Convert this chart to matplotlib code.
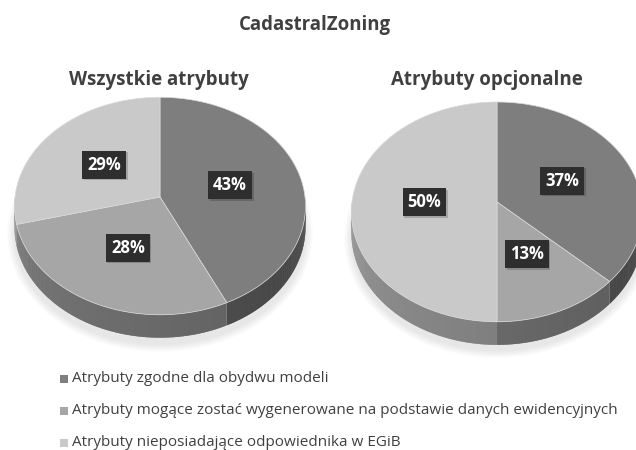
import numpy as np
import matplotlib
matplotlib.use("Agg")
import matplotlib.pyplot as plt
from matplotlib.patches import Polygon, Ellipse, Rectangle

plt.rcParams['font.family'] = ['Open Sans', 'DejaVu Sans']

title = "CadastralZoning"
pie_titles = ["Wszystkie atrybuty", "Atrybuty opcjonalne"]
categories = ["Atrybuty zgodne dla obydwu modeli",
              "Atrybuty mogące zostać wygenerowane na podstawie danych ewidencyjnych",
              "Atrybuty nieposiadające odpowiednika w EGiB"]
values_all = [43, 28, 29]
values_opt = [37, 13, 50]
colors = ["#7e7e7e", "#a6a6a6", "#c9c9c9"]

W, H = 636, 450
fig = plt.figure(figsize=(W / 100, H / 100), dpi=100)
ax = fig.add_axes([0, 0, 1, 1])
ax.set_xlim(0, W)
ax.set_ylim(H, 0)
ax.set_aspect('equal')
ax.axis('off')

def hex2rgb(h):
    h = h.lstrip('#')
    return np.array([int(h[i:i + 2], 16) / 255 for i in (0, 2, 4)])

def draw_pie(values, cx, cy, a, b, k, depth):
    def proj(r, th_deg, drop=0.0):
        t = np.radians(th_deg)
        u, v = r * np.sin(t), r * np.cos(t)
        w = 1 + k * v
        return cx + a * u / w, cy - b * v / w + drop / w

    total = float(sum(values))
    # soft shadow
    for i in range(8):
        ax.add_patch(Ellipse((cx, cy + 16 + depth), 2 * a + 16 - 2 * i,
                             2 * b + 20 - 2 * i, facecolor="#000000",
                             alpha=0.012, edgecolor="none", zorder=0))
    starts = np.cumsum([0] + list(values))[:-1] / total * 360
    ends = np.cumsum(values) / total * 360
    # sides
    for v, s, e, c in zip(values, starts, ends, colors):
        lo, hi = max(s, 90), min(e, 270)
        if hi <= lo:
            continue
        th = np.linspace(lo, hi, int((hi - lo) * 2) + 2)
        base = hex2rgb(c)
        for j, (t0, t1) in enumerate(zip(th[:-1], th[1:])):
            f = 0.52 + 0.22 * ((t0 + t1) / 2 - 90) / 180
            col = np.clip(base * f, 0, 1)
            t1e = t1 if j == len(th) - 2 else t1 + 0.4
            pts = [proj(1, t0), proj(1, t1e), proj(1, t1e, depth), proj(1, t0, depth)]
            ax.add_patch(Polygon(pts, closed=True, facecolor=col,
                                 edgecolor='none', zorder=1))
    # top
    for v, s, e, c in zip(values, starts, ends, colors):
        th = np.linspace(s, e, 200)
        xs, ys = proj(1, th)
        pts = [proj(0, 0)] + list(zip(xs, ys))
        ax.add_patch(Polygon(pts, closed=True, facecolor=c,
                             edgecolor="#dadada", linewidth=0.5, zorder=2))
    # labels
    for v, s, e in zip(values, starts, ends):
        lx, ly = proj(0.5, (s + e) / 2)
        ax.text(lx + 1.5, ly + 1.5, f"{v}%", ha='center', va='center',
                color='none', fontsize=12, fontweight='bold', zorder=4,
                bbox=dict(boxstyle='square,pad=0.3', facecolor='black',
                          alpha=0.18, edgecolor='none'))
        ax.text(lx, ly, f"{v}%", ha='center', va='center', color='white',
                fontsize=12, fontweight='bold', zorder=5,
                bbox=dict(boxstyle='square,pad=0.3', facecolor='#2e2e2e',
                          edgecolor='none'))

draw_pie(values_all, 160, 197, 145, 108, 0.083, 21)
draw_pie(values_opt, 497, 202, 145, 109, 0.09, 21)

ax.text(315, 25, title, ha='center', va='center', fontsize=13.4,
        fontweight='bold', color='#404040')
ax.text(159, 80, pie_titles[0], ha='center', va='center', fontsize=13.5,
        fontweight='bold', color='#404040')
ax.text(487, 80, pie_titles[1], ha='center', va='center', fontsize=13.5,
        fontweight='bold', color='#404040')

for i, (cat, c) in enumerate(zip(categories, colors)):
    y = 379 + i * 32
    ax.add_patch(Rectangle((60, y - 4), 8, 8, facecolor=c, edgecolor='none'))
    ax.text(72, y, cat, ha='left', va='center', fontsize=11, color='#404040')

fig.savefig("out.png", dpi=100, facecolor='white')
